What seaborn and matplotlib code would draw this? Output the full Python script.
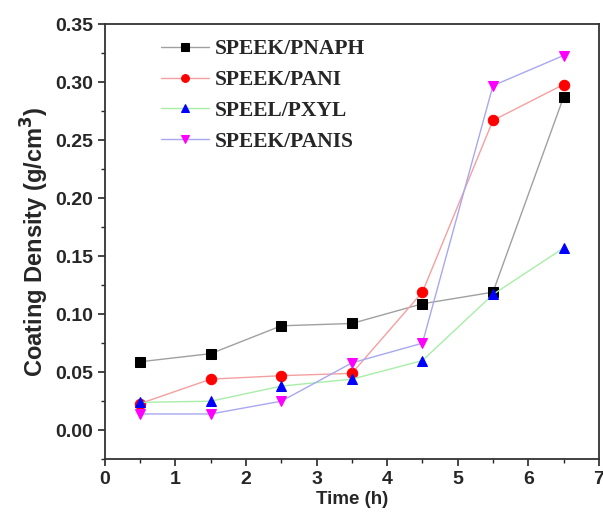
import seaborn as sns
import matplotlib.pyplot as plt
import pandas as pd
from matplotlib.ticker import MultipleLocator

# data
time_h = [0.5, 1.5, 2.5, 3.5, 4.5, 5.5, 6.5]
pnaph = [0.059, 0.066, 0.090, 0.092, 0.109, 0.119, 0.287]
pani = [0.023, 0.044, 0.047, 0.049, 0.119, 0.267, 0.298]
pxyl = [0.024, 0.025, 0.038, 0.044, 0.060, 0.117, 0.157]
panis = [0.014, 0.014, 0.025, 0.058, 0.075, 0.297, 0.323]
names = ["SPEEK/PNAPH", "SPEEK/PANI", "SPEEL/PXYL", "SPEEK/PANIS"]

sns.set_style("ticks")
plt.rcParams['font.family'] = ['Liberation Sans', 'DejaVu Sans']

fig = plt.figure(figsize=(6.03, 5.26), dpi=100)
ax = fig.add_axes([0.174, 0.127, 0.819, 0.827])

styles = [
    ("#a0a0a0", "black", "s"),
    ("#f4a0a0", "red", "o"),
    ("#a8eea8", "blue", "^"),
    ("#a8a8f0", "magenta", "v"),
]
for name, vals, (lc, mc, mk) in zip(names, [pnaph, pani, pxyl, panis], styles):
    df = pd.DataFrame({"Time": time_h, "Density": vals})
    sns.lineplot(data=df, x="Time", y="Density", ax=ax, color=lc, lw=1,
                 marker=mk, markersize=7.5, markerfacecolor=mc,
                 markeredgecolor=mc, label=name)

ax.set_xlim(0, 7)
ax.set_ylim(-0.025, 0.35)
ax.xaxis.set_major_locator(MultipleLocator(1))
ax.xaxis.set_minor_locator(MultipleLocator(0.5))
ax.yaxis.set_major_locator(MultipleLocator(0.05))
ax.yaxis.set_minor_locator(MultipleLocator(0.025))
ax.yaxis.set_major_formatter(plt.FormatStrFormatter('%.2f'))
ax.tick_params(which='major', length=5, width=1.2, labelsize=14)
ax.tick_params(which='minor', length=3, width=1)
for lab in ax.get_xticklabels() + ax.get_yticklabels():
    lab.set_fontweight('bold')
for s in ax.spines.values():
    s.set_linewidth(1.3)
    s.set_color('#333333')

ax.set_xlabel("Time (h)", fontsize=13.5, fontweight='bold', labelpad=2)
ax.set_ylabel("Coating Density (g/cm$^\\mathbf{3}$)", fontsize=17, fontweight='bold', labelpad=3)

leg = ax.legend(loc='upper left', bbox_to_anchor=(0.075, 1.01), frameon=False,
                prop={'family': 'Liberation Serif', 'weight': 'bold', 'size': 15.5},
                handlelength=2.2, labelspacing=0.5, handletextpad=0.3,
                markerscale=0.75)

plt.savefig("out.png", dpi=100)
